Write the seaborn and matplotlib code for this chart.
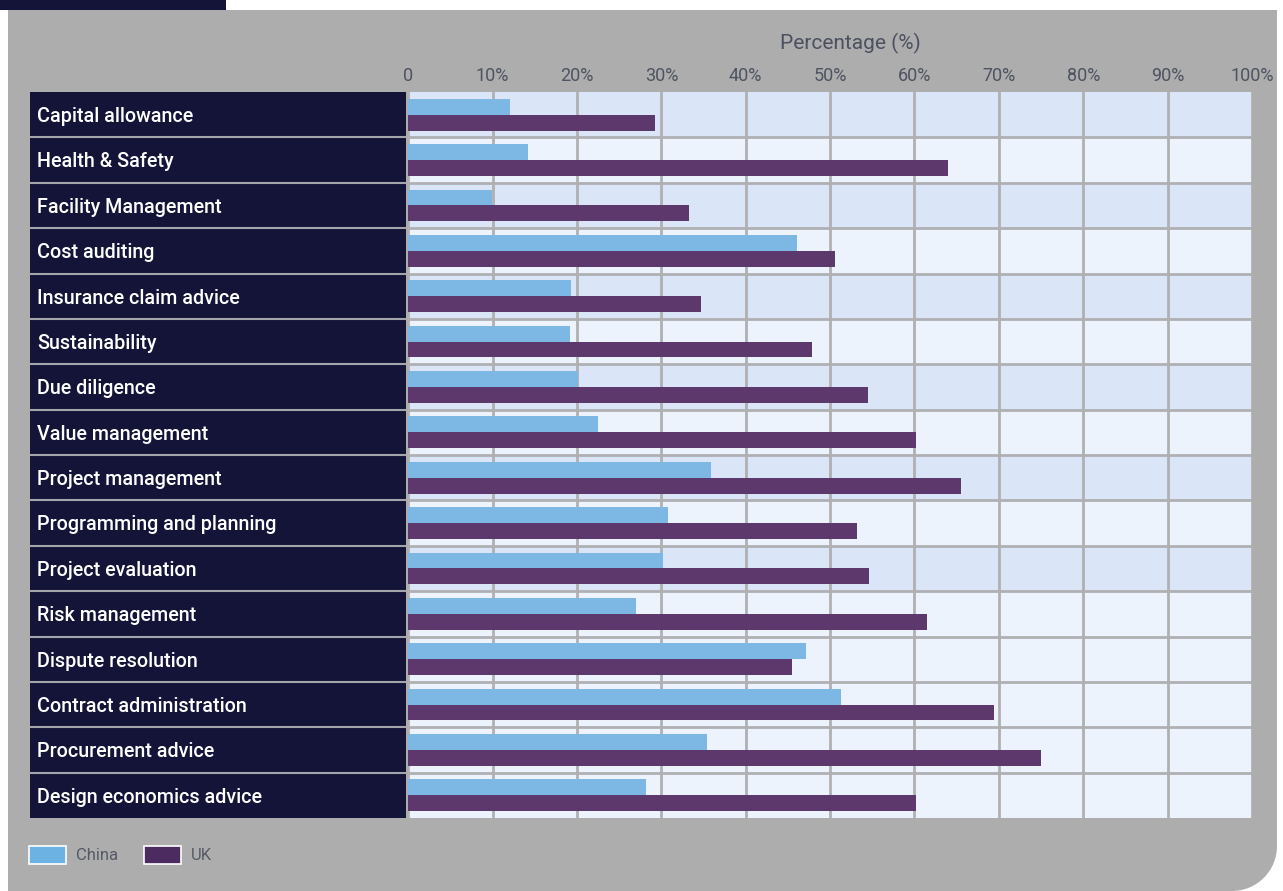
import matplotlib.pyplot as plt
import matplotlib.patches as mpatches
import seaborn as sns
import pandas as pd

# data
categories = [
    "Capital allowance", "Health & Safety", "Facility Management", "Cost auditing",
    "Insurance claim advice", "Sustainability", "Due diligence", "Value management",
    "Project management", "Programming and planning", "Project evaluation",
    "Risk management", "Dispute resolution", "Contract administration",
    "Procurement advice", "Design economics advice",
]
china = [12.1, 14.2, 9.9, 46.1, 19.3, 19.2, 20.1, 22.5, 35.9, 30.8, 30.2, 27.0, 47.2, 51.3, 35.4, 28.2]
uk = [29.2, 64.0, 33.3, 50.6, 34.7, 47.9, 54.5, 60.2, 65.5, 53.2, 54.6, 61.5, 45.5, 69.4, 75.0, 60.2]
series_names = ["China", "UK"]
# rows with the darker band behind them
shaded = [True, False, True, False, True, False, True, False, True, False, True,
          False, False, False, False, False]
ticks = [0, 10, 20, 30, 40, 50, 60, 70, 80, 90, 100]
tick_labels = ["0", "10%", "20%", "30%", "40%", "50%", "60%", "70%", "80%", "90%", "100%"]

df = pd.DataFrame({
    "Category": categories * 2,
    "Value": china + uk,
    "Country": [series_names[0]] * len(china) + [series_names[1]] * len(uk),
})

sns.set_theme(style="white")
plt.rcParams['font.family'] = ['Roboto', 'DejaVu Sans']

W, H = 1283, 891
NAVY = "#141439"
PANEL = "#adadad"
GRID = "#b0b0b3"
bar_colors = ["#7db8e4", "#5c386c"]
legend_colors = ["#6cb3e4", "#4c2b60"]


def box(x0, y0, x1, y1):
    # pixel box (from top-left) -> figure fraction [l, b, w, h]
    return [x0 / W, 1 - y1 / H, (x1 - x0) / W, (y1 - y0) / H]


fig = plt.figure(figsize=(W / 100, H / 100), dpi=100)
fig.patch.set_facecolor("white")

# grey panel with rounded bottom-right corner
r = 45
for x0, y0, x1, y1 in [(8, 10, 1277, 891 - r), (8, 10, 1277 - r, 891)]:
    l, b, w, h = box(x0, y0, x1, y1)
    fig.add_artist(mpatches.Rectangle((l, b), w, h, transform=fig.transFigure,
                                      facecolor=PANEL, lw=0, zorder=-10))
fig.add_artist(mpatches.Ellipse(((1277 - r) / W, r / H), 2 * r / W, 2 * r / H,
                                transform=fig.transFigure, facecolor=PANEL, lw=0, zorder=-10))
l, b, w, h = box(0, 0, 226, 10)
fig.add_artist(mpatches.Rectangle((l, b), w, h, transform=fig.transFigure,
                                  facecolor=NAVY, lw=0, zorder=-9))

# label column
ax_lab = fig.add_axes(box(29.5, 92, 405.5, 818))
ax_lab.set_facecolor(NAVY)
ax_lab.set_xlim(0, 1)
ax_lab.set_ylim(len(categories) - 0.5, -0.5)
for i in range(len(categories) - 1):
    ax_lab.axhline(i + 0.5, color="#a4a4ac", lw=1.5)
for i, name in enumerate(categories):
    ax_lab.text(0.02, i + 0.04, name, color="white", fontsize=14.2, fontweight="medium",
                va="center", ha="left")
ax_lab.set_xticks([])
ax_lab.set_yticks([])
for s in ax_lab.spines.values():
    s.set_visible(False)

# main plot
ax = fig.add_axes(box(408.2, 92, 1252, 818))
ax.set_facecolor("#ecf3fc")
for i, dark in enumerate(shaded):
    if dark:
        ax.axhspan(i - 0.5, i + 0.5, color="#dae6f7", lw=0, zorder=0)

sns.barplot(data=df, x="Value", y="Category", hue="Country", orient="h",
            palette=bar_colors, width=0.7, saturation=1, linewidth=0,
            errorbar=None, legend=False, ax=ax, zorder=3)

for i in range(len(categories) - 1):
    ax.axhline(i + 0.5, color=GRID, lw=2.0, zorder=1)
for t in ticks:
    ax.axvline(t, color=GRID, lw=2.0, zorder=1)

ax.set_xlim(0, 100)
ax.set_ylim(len(categories) - 0.5, -0.5)
ax.set_yticks([])
ax.set_ylabel("")
ax.xaxis.tick_top()
ax.set_xticks(ticks)
ax.set_xticklabels(tick_labels)
ax.tick_params(axis="x", length=0, pad=5, labelsize=13, labelcolor="#4d5361")
ax.set_xlabel("Percentage (%)", fontsize=15, color="#4b5160")
ax.xaxis.set_label_position("top")
ax.xaxis.label.set_va("center")
ax.xaxis.set_label_coords((850 - 408.2) / 843.8, (818 - 43) / 726)
for s in ax.spines.values():
    s.set_visible(False)

handles = [mpatches.Patch(facecolor=c, edgecolor="white", linewidth=1.2, label=n)
           for c, n in zip(legend_colors, series_names)]
fig.legend(handles=handles, loc="lower left", bbox_to_anchor=(29 / W, 1 - 864 / H),
           ncol=2, frameon=False, fontsize=12, handlelength=2.2, handleheight=1.3,
           handletextpad=0.6, columnspacing=1.6, borderpad=0, borderaxespad=0,
           labelcolor="#555a66")

fig.savefig("out.png", dpi=100, facecolor="white")
